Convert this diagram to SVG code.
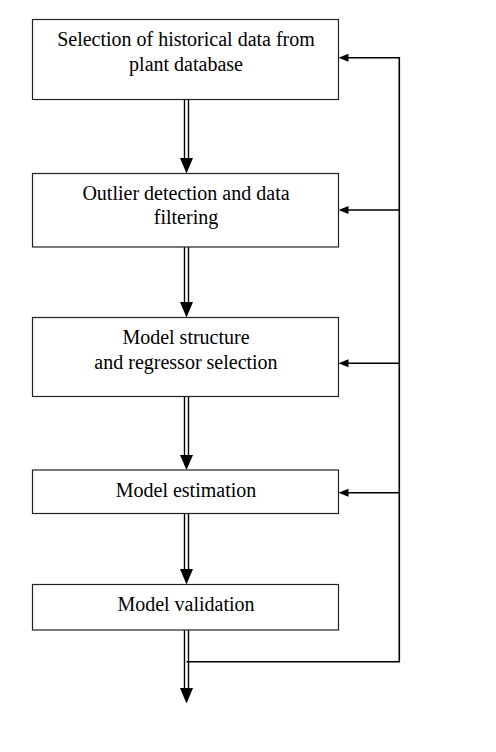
<svg xmlns="http://www.w3.org/2000/svg" width="496" height="752" viewBox="0 0 496 752">
<defs>
<style>
.box{fill:#fff;stroke:#222;stroke-width:1.2}
.dl{stroke:#000;stroke-width:1.4;fill:none}
.fb{stroke:#000;stroke-width:1.6;fill:none}
.ah{fill:#000}
</style>
</defs>
<rect width="496" height="752" fill="#fff"/>
<g id="connectors">
<path class="dl" d="M184.5 99.5V158 M188.5 99.5V158"/>
<polygon class="ah" points="180,158 193,158 186.5,173.5"/>
<path class="dl" d="M184.5 247V302 M188.5 247V302"/>
<polygon class="ah" points="180,302 193,302 186.5,317.5"/>
<path class="dl" d="M184.5 396.5V455 M188.5 396.5V455"/>
<polygon class="ah" points="180,455 193,455 186.5,470"/>
<path class="dl" d="M184.5 513.5V569 M188.5 513.5V569"/>
<polygon class="ah" points="180,569 193,569 186.5,584.5"/>
<path class="dl" d="M184.5 630V688 M188.5 630V688"/>
<polygon class="ah" points="180,688 193,688 186.5,703.5"/>
<path class="fb" d="M186.5 661.7H399.3V57.7H348"/>
<path class="fb" d="M399.3 210H348 M399.3 363.3H348 M399.3 492.7H348"/>
<polygon class="ah" points="338.5,57.7 348.5,53.7 348.5,61.7"/>
<polygon class="ah" points="338.5,210 348.5,206 348.5,214"/>
<polygon class="ah" points="338.5,363.3 348.5,359.3 348.5,367.3"/>
<polygon class="ah" points="338.5,492.7 348.5,488.7 348.5,496.7"/>
</g>
<g font-family="'Liberation Serif', 'Times New Roman', serif" font-size="20" fill="#000" text-anchor="middle">
<g id="n1">
<rect class="box" x="32.5" y="19.5" width="306" height="80"/>
<text x="186" y="46">Selection of historical data from</text>
<text x="186" y="70.5">plant database</text>
</g>
<g id="n2">
<rect class="box" x="32.5" y="173.5" width="306" height="73.5"/>
<text x="186" y="200">Outlier detection and data</text>
<text x="186" y="224">filtering</text>
</g>
<g id="n3">
<rect class="box" x="32.5" y="317.5" width="306" height="79"/>
<text x="186" y="343.5">Model structure</text>
<text x="186" y="368.5">and regressor selection</text>
</g>
<g id="n4">
<rect class="box" x="32.5" y="470" width="306" height="43.5"/>
<text x="186" y="497">Model estimation</text>
</g>
<g id="n5">
<rect class="box" x="32.5" y="584.5" width="306" height="45.5"/>
<text x="186" y="610.5">Model validation</text>
</g>
</g>
</svg>
